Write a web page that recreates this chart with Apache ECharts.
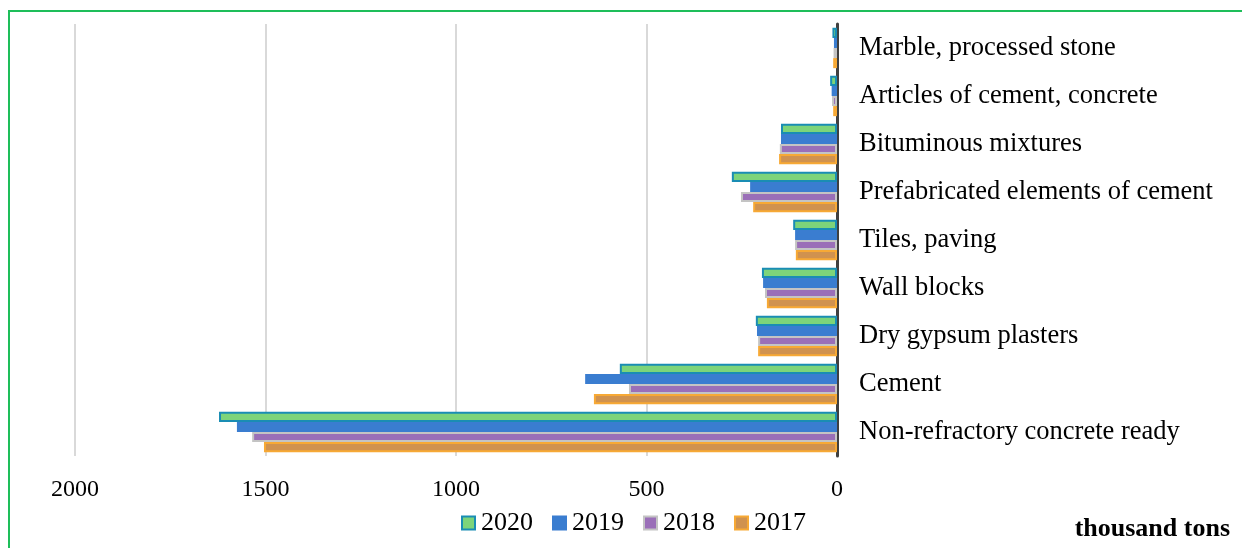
<!DOCTYPE html>
<html>
<head>
<meta charset="utf-8">
<script src="https://cdn.jsdelivr.net/npm/echarts@6/dist/echarts.min.js"></script>
<style>
html,body{margin:0;padding:0;background:#fff;}
#main{width:1242px;height:548px;}
</style>
</head>
<body>
<div id="main"></div>
<script>
const categories = [
  "Marble, processed stone",
  "Articles of cement, concrete",
  "Bituminous mixtures",
  "Prefabricated elements of cement",
  "Tiles, paving",
  "Wall blocks",
  "Dry gypsum plasters",
  "Cement",
  "Non-refractory concrete ready"
];
const seriesNames = ["2020", "2019", "2018", "2017"];
const v2020 = [12, 18, 147, 276, 115, 197, 213, 570, 1622];
const v2019 = [8, 14, 147, 228, 110, 194, 210, 661, 1575];
const v2018 = [9, 13, 150, 252, 110, 189, 207, 546, 1535];
const v2017 = [10, 10, 152, 220, 108, 184, 207, 638, 1504];
const tickValues = [0, 500, 1000, 1500, 2000];

const fills = ["#7dd47a", "#3a7dd0", "#9a6fb8", "#d0924f"];
const borders = ["#1a8db4", "#3a7dd0", "#c4c4c4", "#f7a935"];
const values = [v2020, v2019, v2018, v2017];
const font = "Liberation Serif, Times New Roman, serif";

const chart = echarts.init(document.getElementById('main'), null, {renderer: 'canvas'});
chart.setOption({
  animation: false,
  backgroundColor: '#fff',
  grid: {left: 75, right: 405, top: 24, bottom: 92, containLabel: false},
  xAxis: {
    type: 'value', inverse: true, min: 0, max: 2000, interval: 500,
    axisLine: {show: false}, axisTick: {show: false},
    splitLine: {show: true, lineStyle: {color: '#d9d9d9', width: 2}},
    axisLabel: {fontFamily: font, fontSize: 24, color: '#000', margin: 22,
      formatter: v => tickValues.includes(v) ? String(v) : ''}
  },
  yAxis: {
    type: 'category', inverse: true, data: categories, position: 'right',
    axisLine: {show: true, lineStyle: {color: '#404040', width: 3}},
    axisTick: {show: false},
    axisLabel: {fontFamily: font, fontSize: 26.5, color: '#000', margin: 22, align: 'left',
      padding: [4, 0, 0, 0]}
  },
  legend: {
    data: seriesNames, bottom: 7, left: 456, itemWidth: 13, itemHeight: 13, itemGap: 19,
    textStyle: {fontFamily: font, fontSize: 26, color: '#000', padding: [0, 0, 0, 1]}, icon: 'rect'
  },
  series: values.map((v, i) => ({
    name: seriesNames[i], type: 'bar', data: v, barGap: '0%', barCategoryGap: '16%',
    itemStyle: {color: fills[i], borderColor: borders[i], borderWidth: 2}
  })),
  graphic: [
    {type: 'polyline', shape: {points: [[9, 548], [9, 11], [1242, 11]]},
     style: {stroke: '#1ebe5a', lineWidth: 2, fill: null}},
    {type: 'text', right: 12, bottom: 6,
     style: {text: 'thousand tons', font: 'bold 26px ' + font, fill: '#000'}}
  ]
});
</script>
</body>
</html>
